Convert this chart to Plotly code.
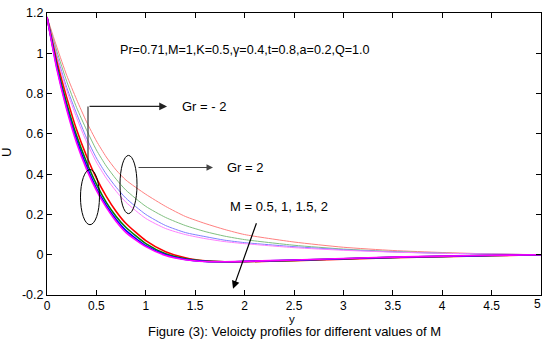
import plotly.graph_objects as go

# ---- data ----
y_pts = [0, 0.1, 0.2, 0.3, 0.4, 0.5, 0.6, 0.7, 0.8, 1.0, 1.2, 1.4, 1.6, 1.8, 2.0, 2.5, 3.0, 3.5, 4.0, 4.5, 5.0]

# Gr = -2 (thick lines), M = 0.5, 1, 1.5, 2
u_neg_m05 = [1.18, 0.96, 0.78, 0.62, 0.49, 0.38, 0.29, 0.215, 0.155, 0.07, 0.015, -0.015, -0.03, -0.035, -0.035, -0.03, -0.022, -0.015, -0.01, -0.005, 0.0]
u_neg_m1 = [1.18, 0.94, 0.75, 0.59, 0.46, 0.35, 0.26, 0.19, 0.135, 0.055, 0.005, -0.02, -0.032, -0.035, -0.034, -0.028, -0.02, -0.013, -0.008, -0.004, 0.0]
u_neg_m15 = [1.18, 0.93, 0.73, 0.57, 0.44, 0.33, 0.245, 0.175, 0.12, 0.045, 0.0, -0.023, -0.033, -0.035, -0.033, -0.027, -0.02, -0.013, -0.008, -0.004, 0.0]
u_neg_m2 = [1.18, 0.92, 0.72, 0.555, 0.425, 0.32, 0.235, 0.165, 0.11, 0.04, -0.004, -0.025, -0.034, -0.035, -0.033, -0.026, -0.019, -0.012, -0.007, -0.003, 0.0]

# Gr = 2 (thin light lines), M = 0.5, 1, 1.5, 2
u_pos_m05 = [1.18, 1.03, 0.89, 0.77, 0.66, 0.565, 0.485, 0.42, 0.37, 0.3, 0.24, 0.19, 0.155, 0.125, 0.1, 0.063, 0.037, 0.021, 0.011, 0.004, 0.0]
u_pos_m1 = [1.18, 1.01, 0.86, 0.73, 0.62, 0.52, 0.44, 0.375, 0.32, 0.24, 0.185, 0.145, 0.115, 0.092, 0.075, 0.047, 0.028, 0.016, 0.008, 0.003, 0.0]
u_pos_m15 = [1.18, 0.99, 0.83, 0.70, 0.58, 0.48, 0.40, 0.335, 0.28, 0.2, 0.145, 0.11, 0.09, 0.072, 0.06, 0.04, 0.025, 0.014, 0.007, 0.003, 0.0]
u_pos_m2 = [1.18, 0.98, 0.815, 0.68, 0.56, 0.46, 0.38, 0.315, 0.26, 0.18, 0.13, 0.1, 0.08, 0.065, 0.055, 0.035, 0.022, 0.013, 0.007, 0.003, 0.0]

x_ticks = [0, 0.5, 1, 1.5, 2, 2.5, 3, 3.5, 4, 4.5]
x_ticktext = ["0", "0.5", "1", "1.5", "2", "2.5", "3", "3.5", "4", "4.5"]
y_ticks = [-0.2, 0, 0.2, 0.4, 0.6, 0.8, 1.0, 1.2]
y_ticktext = ["-0.2", "0", "0.2", "0.4", "0.6", "0.8", "1", "1.2"]

FONT = "Liberation Sans, Arial, sans-serif"

fig = go.Figure()

light = [(u_pos_m05, "#ff8080"), (u_pos_m1, "#80c080"), (u_pos_m15, "#8080ff"), (u_pos_m2, "#ff80ff")]
for u, c in light:
    fig.add_trace(go.Scatter(x=y_pts, y=u, mode="lines", line=dict(color=c, width=1, shape="spline", smoothing=0.6), showlegend=False))

thick = [(u_neg_m05, "#ff0000"), (u_neg_m1, "#008000"), (u_neg_m15, "#0000ff"), (u_neg_m2, "#ff00ff")]
for u, c in thick:
    fig.add_trace(go.Scatter(x=y_pts, y=u, mode="lines", line=dict(color=c, width=1.6, shape="spline", smoothing=0.6), showlegend=False))

shapes = [
    dict(type="circle", xref="x", yref="y", x0=0.339, x1=0.531, y0=0.149, y1=0.423, line=dict(color="black", width=1)),
    dict(type="circle", xref="x", yref="y", x0=0.739, x1=0.911, y0=0.204, y1=0.493, line=dict(color="black", width=1)),
    dict(type="line", xref="x", yref="y", x0=0.415, x1=0.415, y0=0.433, y1=0.736, line=dict(color="#333333", width=1.2)),
]

def f(size):
    return dict(family=FONT, size=size, color="black")

annotations = [
    dict(x=0.719, y=1.015, xref="x", yref="y", text="Pr=0.71,M=1,K=0.5,γ=0.4,t=0.8,a=0.2,Q=1.0", showarrow=False,
         xanchor="left", yanchor="middle", font=f(12.6)),
    dict(x=1.215, y=0.736, ax=0.415, ay=0.736, xref="x", yref="y", axref="x", ayref="y", text="", showarrow=True,
         arrowhead=2, arrowsize=1.3, arrowwidth=1.2, arrowcolor="#222222"),
    dict(x=1.346, y=0.736, xref="x", yref="y", text="Gr = - 2", showarrow=False, xanchor="left", yanchor="middle", font=f(13)),
    dict(x=1.68, y=0.433, ax=0.911, ay=0.433, xref="x", yref="y", axref="x", ayref="y", text="", showarrow=True,
         arrowhead=2, arrowsize=1.3, arrowwidth=1, arrowcolor="#444444"),
    dict(x=1.80, y=0.433, xref="x", yref="y", text="Gr = 2", showarrow=False, xanchor="left", yanchor="middle", font=f(13)),
    dict(x=1.883, y=-0.169, ax=2.125, ay=0.164, xref="x", yref="y", axref="x", ayref="y", text="", showarrow=True,
         arrowhead=2, arrowsize=1.3, arrowwidth=1.2, arrowcolor="black"),
    dict(x=2.348, y=0.239, xref="x", yref="y", text="M = 0.5, 1, 1.5, 2", showarrow=False, xanchor="center", yanchor="middle", font=f(13)),
    # x-axis title "y"
    dict(x=(292 - 47) / 494, y=(295 - 318.5) / 282, xref="paper", yref="paper", text="y", showarrow=False,
         xanchor="center", yanchor="middle", font=f(11.5)),
    # last x tick label, pushed against the right edge as in the reference
    dict(x=(543 - 47) / 494, y=(295 - 304) / 282, xref="paper", yref="paper", text="5", showarrow=False,
         xanchor="right", yanchor="middle", font=f(12)),
    dict(x=(294 - 47) / 494, y=(295 - 331.5) / 282, xref="paper", yref="paper",
         text="Figure (3): Veloicty profiles for different values of M", showarrow=False,
         xanchor="center", yanchor="middle", font=f(13)),
    dict(x=(6 - 47) / 494, y=(295 - 153) / 282, xref="paper", yref="paper", text="U", textangle=-90, showarrow=False,
         xanchor="center", yanchor="middle", font=f(13)),
]

fig.update_layout(
    width=543, height=339,
    margin=dict(l=47, r=2, t=13, b=44),
    paper_bgcolor="white", plot_bgcolor="white",
    shapes=shapes, annotations=annotations,
    font=f(12),
    showlegend=False,
)
fig.update_xaxes(range=[0, 5], tickvals=x_ticks, ticktext=x_ticktext, ticks="inside", ticklen=5, tickcolor="black",
                 showline=True, linecolor="black", linewidth=1, mirror="ticks", showgrid=False, zeroline=False,
                 tickfont=f(12))
fig.update_yaxes(range=[-0.2, 1.2], tickvals=y_ticks, ticktext=y_ticktext, ticks="inside", ticklen=5, tickcolor="black",
                 showline=True, linecolor="black", linewidth=1, mirror="ticks", showgrid=False, zeroline=False,
                 tickfont=f(12.5))

fig.write_html("out.html")
